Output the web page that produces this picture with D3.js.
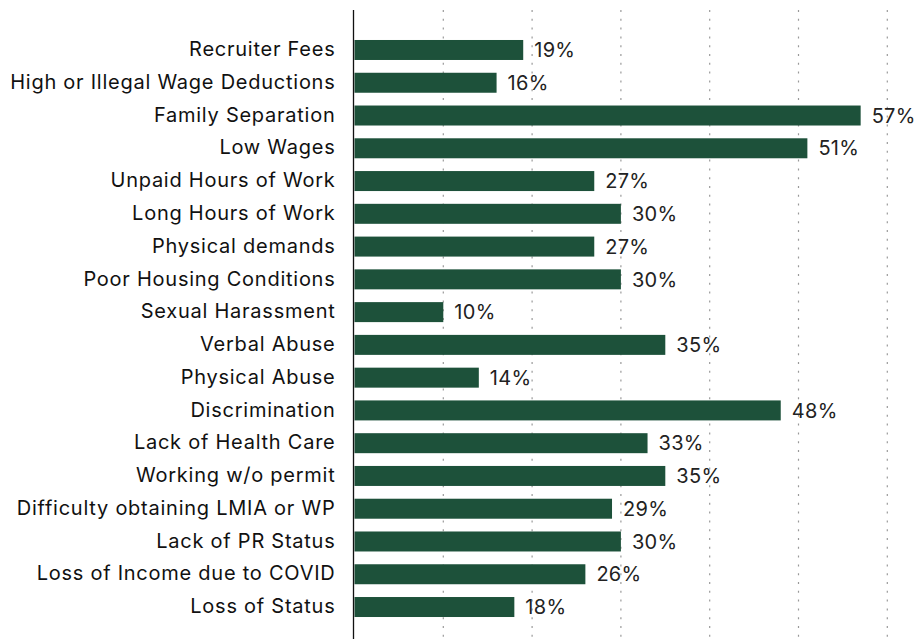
<!DOCTYPE html>
<html>
<head>
<meta charset="utf-8">
<script src="https://cdn.jsdelivr.net/npm/d3@7"></script>
<style>
  html, body { margin: 0; padding: 0; background: #fff; }
  svg { display: block; }
</style>
</head>
<body>
<svg id="chart" width="916" height="639"></svg>
<script>
const categories = [
  "Recruiter Fees",
  "High or Illegal Wage Deductions",
  "Family Separation",
  "Low Wages",
  "Unpaid Hours of Work",
  "Long Hours of Work",
  "Physical demands",
  "Poor Housing Conditions",
  "Sexual Harassment",
  "Verbal Abuse",
  "Physical Abuse",
  "Discrimination",
  "Lack of Health Care",
  "Working w/o permit",
  "Difficulty obtaining LMIA or WP",
  "Lack of PR Status",
  "Loss of Income due to COVID",
  "Loss of Status"
];
const values = [19, 16, 57, 51, 27, 30, 27, 30, 10, 35, 14, 48, 33, 35, 29, 30, 26, 18];
const gridTicks = [10, 20, 30, 40, 50, 60];

const svg = d3.select("#chart");
const W = 916, H = 639;
const font = "Inter, 'Liberation Sans', Arial, sans-serif";

const x = d3.scaleLinear().domain([0, 60]).range([354.5, 887.3]);
const y = d3.scaleBand().domain(categories).range([33.6, 623.4]).paddingInner(0.39).paddingOuter(0.195);

// dotted vertical gridlines
svg.append("g")
  .selectAll("line")
  .data(gridTicks)
  .join("line")
  .attr("x1", d => x(d)).attr("x2", d => x(d))
  .attr("y1", 10).attr("y2", H)
  .attr("stroke", "#999")
  .attr("stroke-width", 1.2)
  .attr("stroke-dasharray", "2,6.8");

// bars
svg.append("g")
  .selectAll("rect")
  .data(values)
  .join("rect")
  .attr("x", x(0))
  .attr("y", (d, i) => y(categories[i]))
  .attr("width", d => x(d) - x(0))
  .attr("height", y.bandwidth())
  .attr("fill", "#1d513a");

// value labels
svg.append("g")
  .selectAll("text")
  .data(values)
  .join("text")
  .attr("x", d => x(d) + 11)
  .attr("y", (d, i) => y(categories[i]) + y.bandwidth() / 2 + 7.2)
  .attr("font-family", font)
  .attr("font-size", 20)
  .attr("letter-spacing", "0.3px")
  .attr("fill", "#222")
  .text(d => d + "%");

// category axis
const axis = svg.append("g")
  .attr("transform", `translate(${x(0) - 1},0)`)
  .call(d3.axisLeft(y).tickSize(0).tickPadding(18));
axis.select(".domain").remove();
axis.selectAll("text")
  .attr("font-family", font)
  .attr("font-size", 20)
  .attr("letter-spacing", "0.75px")
  .attr("fill", "#111")
  .attr("dy", null)
  .attr("y", 6.2);

svg.append("line")
  .attr("x1", x(0) - 1).attr("x2", x(0) - 1)
  .attr("y1", 10).attr("y2", H)
  .attr("stroke", "#111")
  .attr("stroke-width", 1.3);
</script>
</body>
</html>
